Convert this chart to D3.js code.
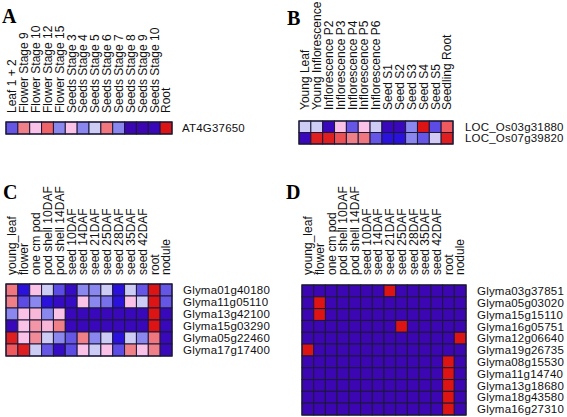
<!DOCTYPE html>
<html><head><meta charset="utf-8">
<script src="https://cdn.jsdelivr.net/npm/d3@7"></script>
<style>body{margin:0;background:#fff}svg{display:block}</style>
</head><body><svg id="c" width="567" height="417"></svg>
<script>
const colsA = ["Leaf 1 + 2","Flower Stage 9","Flower Stage 10","Flower Stage 12","Flower Stage 15","Seeds Stage 3","Seeds Stage 4","Seeds Stage 5","Seeds Stage 6","Seeds Stage 7","Seeds Stage 8","Seeds Stage 9","Seeds Stage 10","Root"];
const rowsA = ["AT4G37650"];
const valsA = [[-0.45,0.45,0.15,0.6,-0.35,0.15,-0.35,-0.15,0.5,-0.35,-1,-1,-0.95,1]];

const colsB = ["Young Leaf","Young Inflorescence","Inflorescence P2","Inflorescence P3","Inflorescence P4","Inflorescence P5","Inflorescence P6","Seed S1","Seed S2","Seed S3","Seed S4","Seed S5","Seedling Root"];
const rowsB = ["LOC_Os03g31880","LOC_Os07g39820"];
const valsB = [
  [-0.15,-0.15,-0.95,0.15,-0.45,0.15,-0.15,-0.95,-0.95,-0.35,1,-0.5,0.65],
  [-0.95,0.95,0.95,0.7,0.45,0.5,-0.45,-0.75,-0.75,-0.35,-0.45,-0.12,0.95]
];

const colsC = ["young_leaf","flower","one cm pod","pod shell 10DAF","pod shell 14DAF","seed 10DAF","seed 14DAF","seed 21DAF","seed 25DAF","seed 28DAF","seed 35DAF","seed 42DAF","root","nodule"];
const rowsC = ["Glyma01g40180","Glyma11g05110","Glyma13g42100","Glyma15g03290","Glyma05g22460","Glyma17g17400"];
const valsC = [
  [0.5,-0.75,0.15,-0.15,-0.5,-0.9,-0.35,-0.35,-0.15,-0.75,-0.15,-0.45,1,-0.45],
  [0.45,-0.5,-0.35,-0.75,-0.9,-0.9,0.15,-0.35,-0.4,-0.75,0.15,-0.15,1,-0.45],
  [-0.35,0.15,0.2,-0.35,0.15,-0.95,-0.95,-0.95,-0.95,-0.95,-0.95,-0.95,1,-0.95],
  [-0.95,0.15,0.35,0.2,0.45,-0.95,-0.95,-0.95,-0.95,-0.95,-0.95,-0.95,1,-0.95],
  [0.95,0.15,0.4,-0.15,-0.35,-0.45,0.45,-0.35,-0.15,-0.75,-0.15,-0.35,0.5,-0.95],
  [0.65,0.95,-0.15,-0.45,-0.9,-0.5,0.15,-0.15,0.15,-0.5,0.45,0.15,0.45,-0.95]
];

const colsD = ["young_leaf","flower","one cm pod","pod shell 10DAF","pod shell 14DAF","seed 10DAF","seed 14DAF","seed 21DAF","seed 25DAF","seed 28DAF","seed 35DAF","seed 42DAF","root","nodule"];
const rowsD = ["Glyma03g37851","Glyma05g03020","Glyma15g15110","Glyma16g05751","Glyma12g06640","Glyma19g26735","Glyma08g15530","Glyma11g14740","Glyma13g18680","Glyma18g43580","Glyma16g27310"];
const valsD = [
  [-1,-1,-1,-1,-1,-1,-1, 1,-1,-1,-1,-1,-1,-1],
  [-1, 1,-1,-1,-1,-1,-1,-1,-1,-1,-1,-1,-1,-1],
  [-1, 1,-1,-1,-1,-1,-1,-1,-1,-1,-1,-1,-1,-1],
  [-1,-1,-1,-1,-1,-1,-1,-1, 1,-1,-1,-1,-1,-1],
  [-1,-1,-1,-1,-1,-1,-1,-1,-1,-1,-1,-1,-1, 1],
  [ 1,-1,-1,-1,-1,-1,-1,-1,-1,-1,-1,-1,-1,-1],
  [-1,-1,-1,-1,-1,-1,-1,-1,-1,-1,-1,-1, 1,-1],
  [-1,-1,-1,-1,-1,-1,-1,-1,-1,-1,-1,-1, 1,-1],
  [-1,-1,-1,-1,-1,-1,-1,-1,-1,-1,-1,-1, 1,-1],
  [-1,-1,-1,-1,-1,-1,-1,-1,-1,-1,-1,-1, 1,-1],
  [-1,-1,-1,-1,-1,-1,-1,-1,-1,-1,-1,-1, 1,-1]
];

const color = d3.scaleLinear()
  .domain([-1,-0.75,-0.45,-0.35,-0.15,0.15,0.45,0.65,1])
  .range(["#3c06b2","#2a12dc","#6656e6","#8a88ee","#ccccf4","#f9c2e6","#f08088","#ee5a5e","#dc1414"])
  .clamp(true);

const svg = d3.select("#c");
const font = "Liberation Sans, Arial, sans-serif";

function panel(letter, lx, ly, cols, rows, vals, x0, x1, y0, y1, labBottom, rowLabX) {
  const g = svg.append("g");
  g.append("text").attr("x", lx).attr("y", ly).text(letter)
    .attr("font-family","Liberation Serif, Times New Roman, serif").attr("font-weight","bold").attr("font-size",20);
  const x = d3.scaleBand().domain(d3.range(cols.length)).range([x0, x1]);
  const y = d3.scaleBand().domain(d3.range(rows.length)).range([y0, y1]);
  const cells = [];
  vals.forEach((r,i)=>r.forEach((v,j)=>cells.push({i,j,v})));
  g.selectAll("rect.cell").data(cells).join("rect").attr("class","cell")
    .attr("x",d=>x(d.j)).attr("y",d=>y(d.i))
    .attr("width",x.bandwidth()).attr("height",y.bandwidth())
    .attr("fill",d=>color(d.v)).attr("stroke","#1c1838").attr("stroke-width",1);
  g.append("rect").attr("x",x0).attr("y",y0).attr("width",x1-x0).attr("height",y1-y0)
    .attr("fill","none").attr("stroke","#1c1838").attr("stroke-width",1.2);
  g.selectAll("text.col").data(cols).join("text").attr("class","col")
    .attr("transform",(d,j)=>`translate(${x(j)+x.bandwidth()/2},${labBottom}) rotate(-90)`)
    .attr("dy","0.36em").attr("text-anchor","start")
    .attr("font-family",font).attr("font-size",12).attr("fill","#111").text(d=>d);
  g.selectAll("text.row").data(rows).join("text").attr("class","row")
    .attr("x",rowLabX).attr("y",(d,i)=>y(i)+y.bandwidth()/2).attr("dy","0.36em")
    .attr("font-family",font).attr("font-size",11.5).attr("letter-spacing",0.2).attr("fill","#111").text(d=>d);
}

panel("A", 2, 23, colsA, rowsA, valsA, 6, 172, 122, 134, 113, 182);
panel("B", 287, 25, colsB, rowsB, valsB, 299, 453, 121, 144, 110, 465);
panel("C", 3, 199, colsC, rowsC, valsC, 6, 172, 284, 356, 275, 183);
panel("D", 286, 199, colsD, rowsD, valsD, 302, 466, 285, 415, 275, 477);
</script>
</body></html>
